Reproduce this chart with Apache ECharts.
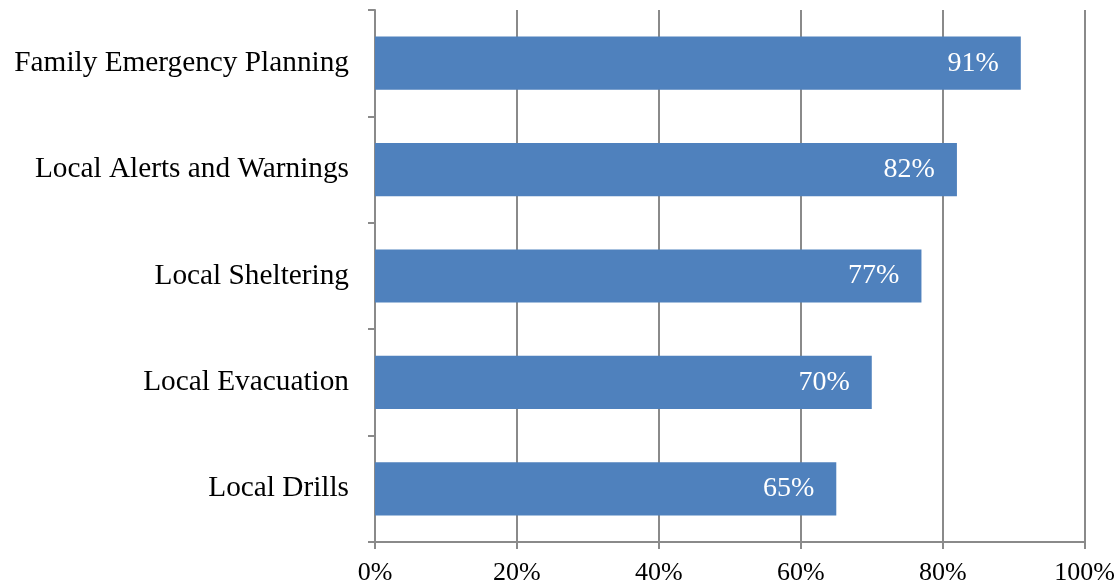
<!DOCTYPE html>
<html>
<head>
<meta charset="utf-8">
<script src="https://cdn.jsdelivr.net/npm/echarts@6/dist/echarts.min.js"></script>
<style>
  html, body { margin: 0; padding: 0; background: #ffffff; }
  #chart { width: 1118px; height: 586px; }
</style>
</head>
<body>
<div id="chart"></div>
<script>
// Topics, listed bottom to top as the category axis draws them
const categories = [
  'Local Drills',
  'Local Evacuation',
  'Local Sheltering',
  'Local Alerts and Warnings',
  'Family Emergency Planning'
];
// Share of respondents, in percent
const values = [65, 70, 77, 82, 91];
const xTicks = [0, 20, 40, 60, 80, 100];

const gridColor = '#8a8a8a';
const font = 'Liberation Serif, Times New Roman, serif';

const chart = echarts.init(document.getElementById('chart'));
chart.setOption({
  animation: false,
  grid: { left: 375, right: 27, top: 10, bottom: 44, containLabel: false },
  xAxis: {
    type: 'value',
    min: xTicks[0],
    max: xTicks[xTicks.length - 1],
    interval: 20,
    axisLine: { show: true, lineStyle: { color: gridColor, width: 2 } },
    axisTick: { show: true, length: 7, lineStyle: { color: gridColor, width: 2 } },
    splitLine: { show: true, lineStyle: { color: gridColor, width: 2 } },
    axisLabel: {
      margin: 18,
      color: '#000',
      fontFamily: font,
      fontSize: 26,
      formatter: v => v + '%'
    }
  },
  yAxis: {
    type: 'category',
    data: categories,
    axisLine: { show: true, lineStyle: { color: gridColor, width: 2 } },
    axisTick: { show: true, length: 7, inside: false, lineStyle: { color: gridColor, width: 2 } },
    splitLine: { show: false },
    axisLabel: {
      margin: 26,
      color: '#000',
      fontFamily: font,
      fontSize: 29.3
    }
  },
  series: [{
    type: 'bar',
    data: values,
    barCategoryGap: '50%',
    itemStyle: { color: '#4f81bd' },
    label: {
      show: true,
      position: 'insideRight',
      distance: 22,
      color: '#ffffff',
      fontFamily: font,
      fontSize: 28,
      formatter: p => p.value + '%'
    }
  }]
});
</script>
</body>
</html>
